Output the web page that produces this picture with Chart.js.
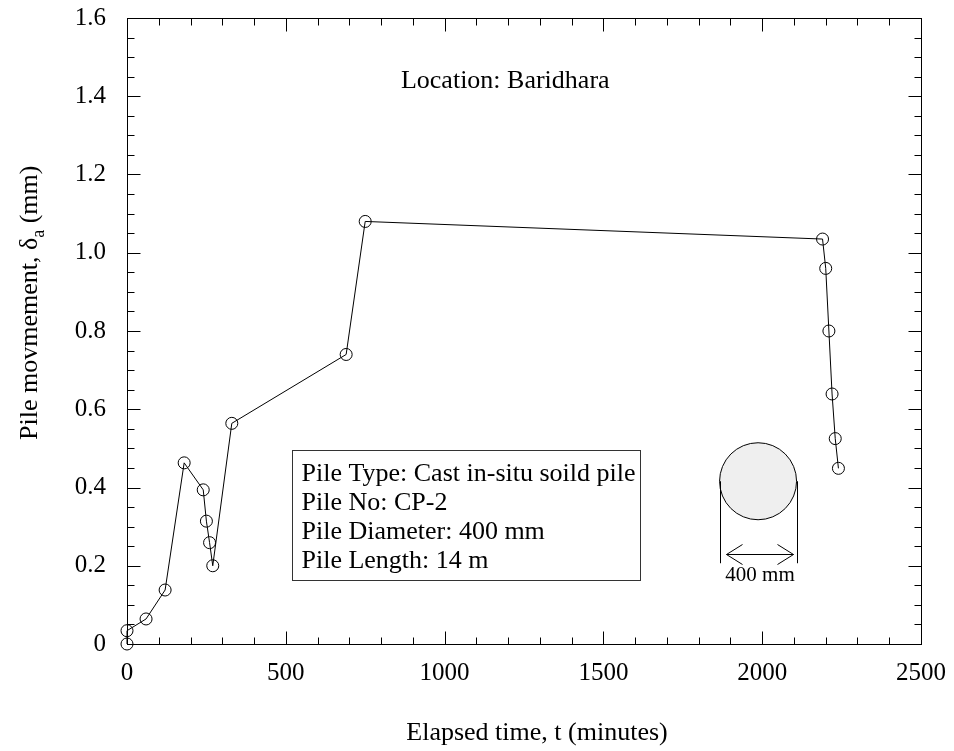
<!DOCTYPE html>
<html>
<head>
<meta charset="utf-8">
<title>Pile movement vs elapsed time</title>
<script src="https://cdn.jsdelivr.net/npm/chart.js@4"></script>
<style>
  body { margin: 0; background: #fff; }
  #wrap { width: 954px; height: 751px; }
</style>
</head>
<body>
<div id="wrap"><canvas id="myChart" width="954" height="751"></canvas></div>
<script>
// Readings taken off the original plot
const elapsedTime = [0, 0, 60, 120, 180, 240, 250, 260, 270, 330, 690, 750, 2190, 2200, 2210, 2220, 2230, 2240];
const pileMovement = [0, 0.034, 0.064, 0.138, 0.463, 0.394, 0.314, 0.259, 0.200, 0.564, 0.740, 1.080, 1.035, 0.960, 0.800, 0.639, 0.525, 0.449];

// Axis tick values
const xTickValues = [0, 500, 1000, 1500, 2000, 2500];
const yTickValues = [0, 0.2, 0.4, 0.6, 0.8, 1.0, 1.2, 1.4, 1.6];

// Text on the chart
const locationText = 'Location: Baridhara';
const pileInfo = [
    'Pile Type: Cast in-situ soild pile',
    'Pile No: CP-2',
    'Pile Diameter: 400 mm',
    'Pile Length: 14 m'
];
const diameterLabel = '400 mm';

const serif = "'Liberation Serif', 'Times New Roman', serif";

// Frame, inward ticks on all four sides, titles and the notes
const framePlugin = {
    id: 'frame',
    afterDraw(chart) {
        const { ctx, chartArea: a, scales: { x, y } } = chart;
        const px = v => Math.round(x.getPixelForValue(v)) + 0.5;
        const py = v => Math.round(y.getPixelForValue(v)) + 0.5;
        const L = Math.round(a.left) + 0.5, R = Math.round(a.right) + 0.5;
        const T = Math.round(a.top) + 0.5, B = Math.round(a.bottom) + 0.5;

        ctx.save();
        ctx.strokeStyle = '#000';
        ctx.lineWidth = 1;
        ctx.strokeRect(L, T, R - L, B - T);

        ctx.beginPath();
        for (let i = 0; i <= 25; i++) {
            const xp = px(i * 100);
            const len = i % 5 === 0 ? 13 : 7;
            ctx.moveTo(xp, B); ctx.lineTo(xp, B - len);
            ctx.moveTo(xp, T); ctx.lineTo(xp, T + len);
        }
        for (let i = 0; i <= 32; i++) {
            const yp = py(i * 0.05);
            const len = i % 4 === 0 ? 13 : 7;
            ctx.moveTo(L, yp); ctx.lineTo(L + len, yp);
            ctx.moveTo(R, yp); ctx.lineTo(R - len, yp);
        }
        ctx.stroke();

        ctx.fillStyle = '#000';

        // x axis title
        ctx.font = '26px ' + serif;
        ctx.textAlign = 'center';
        ctx.textBaseline = 'alphabetic';
        ctx.fillText('Elapsed time, t (minutes)', 537, 740);

        // y axis title, with subscript a
        ctx.save();
        ctx.translate(37, 440);
        ctx.rotate(-Math.PI / 2);
        ctx.textAlign = 'left';
        const part1 = 'Pile movmement, \u03b4';
        ctx.font = '26px ' + serif;
        ctx.fillText(part1, 0, 0);
        let off = ctx.measureText(part1).width;
        ctx.font = '18px ' + serif;
        ctx.fillText('a', off, 7);
        off += ctx.measureText('a').width;
        ctx.font = '26px ' + serif;
        ctx.fillText(' (mm)', off, 0);
        ctx.restore();

        // location
        ctx.font = '26px ' + serif;
        ctx.textAlign = 'center';
        ctx.fillText(locationText, x.getPixelForValue(1191), y.getPixelForValue(1.421));

        // info box
        const bx = Math.round(x.getPixelForValue(518)) + 0.5;
        const by = Math.round(y.getPixelForValue(0.496)) + 0.5;
        const bw = 348, bh = 130;
        ctx.strokeStyle = '#333';
        ctx.strokeRect(bx, by, bw, bh);
        ctx.textAlign = 'left';
        pileInfo.forEach((line, i) => {
            ctx.fillText(line, bx + 9, by + 30 + i * 29.3);
        });

        // pile cross-section sketch
        const cx = x.getPixelForValue(1987);
        const cy = y.getPixelForValue(0.416);
        const r = 38.5;
        ctx.strokeStyle = '#000';
        ctx.fillStyle = '#efefef';
        ctx.beginPath();
        ctx.arc(cx, cy, r, 0, Math.PI * 2);
        ctx.fill();
        ctx.stroke();

        const lx = Math.round(cx - r) + 0.5, rx = Math.round(cx + r) + 0.5;
        ctx.beginPath();
        ctx.moveTo(lx, cy); ctx.lineTo(lx, cy + 82);
        ctx.moveTo(rx, cy); ctx.lineTo(rx, cy + 82);
        const ay = Math.round(cy + 72.5) + 0.5;
        ctx.moveTo(lx + 6, ay); ctx.lineTo(rx - 4, ay);
        ctx.moveTo(lx + 22, ay - 10); ctx.lineTo(lx + 6, ay); ctx.lineTo(lx + 22, ay + 10);
        ctx.moveTo(rx - 20, ay - 10); ctx.lineTo(rx - 4, ay); ctx.lineTo(rx - 20, ay + 10);
        ctx.stroke();

        ctx.fillStyle = '#000';
        ctx.font = '21px ' + serif;
        ctx.textAlign = 'center';
        ctx.fillText(diameterLabel, cx + 2, cy + 100);

        ctx.restore();
    }
};

const ctx = document.getElementById('myChart').getContext('2d');

const myChart = new Chart(ctx, {
    type: 'scatter',
    data: {
        datasets: [{
            label: 'Pile movement',
            data: elapsedTime.map((t, i) => ({ x: t, y: pileMovement[i] })),
            showLine: true,
            clip: false,
            borderColor: '#000',
            borderWidth: 1,
            pointStyle: 'circle',
            pointRadius: 6,
            pointBorderColor: '#000',
            pointBorderWidth: 1,
            pointBackgroundColor: 'rgba(0,0,0,0)',
            tension: 0
        }]
    },
    options: {
        responsive: false,
        animation: false,
        layout: { padding: { left: 0, right: 33, top: 18, bottom: 0 } },
        plugins: {
            legend: { display: false },
            tooltip: { enabled: false }
        },
        scales: {
            x: {
                type: 'linear',
                min: 0,
                max: 2500,
                afterBuildTicks: s => { s.ticks = xTickValues.map(v => ({ value: v })); },
                afterFit: s => { s.height = 107; s.paddingLeft = 0; s.paddingRight = 0; },
                grid: { display: false, drawTicks: false },
                border: { display: false },
                ticks: {
                    color: '#000',
                    padding: 14,
                    maxRotation: 0,
                    font: { family: serif, size: 25 },
                    callback: v => String(v)
                }
            },
            y: {
                type: 'linear',
                min: 0,
                max: 1.6,
                afterBuildTicks: s => { s.ticks = yTickValues.map(v => ({ value: v })); },
                afterFit: s => { s.width = 127; s.paddingTop = 0; s.paddingBottom = 0; },
                grid: { display: false, drawTicks: false },
                border: { display: false },
                ticks: {
                    color: '#000',
                    padding: 21,
                    font: { family: serif, size: 25 },
                    callback: v => v === 0 ? '0' : v.toFixed(1)
                }
            }
        }
    },
    plugins: [framePlugin]
});
</script>
</body>
</html>
